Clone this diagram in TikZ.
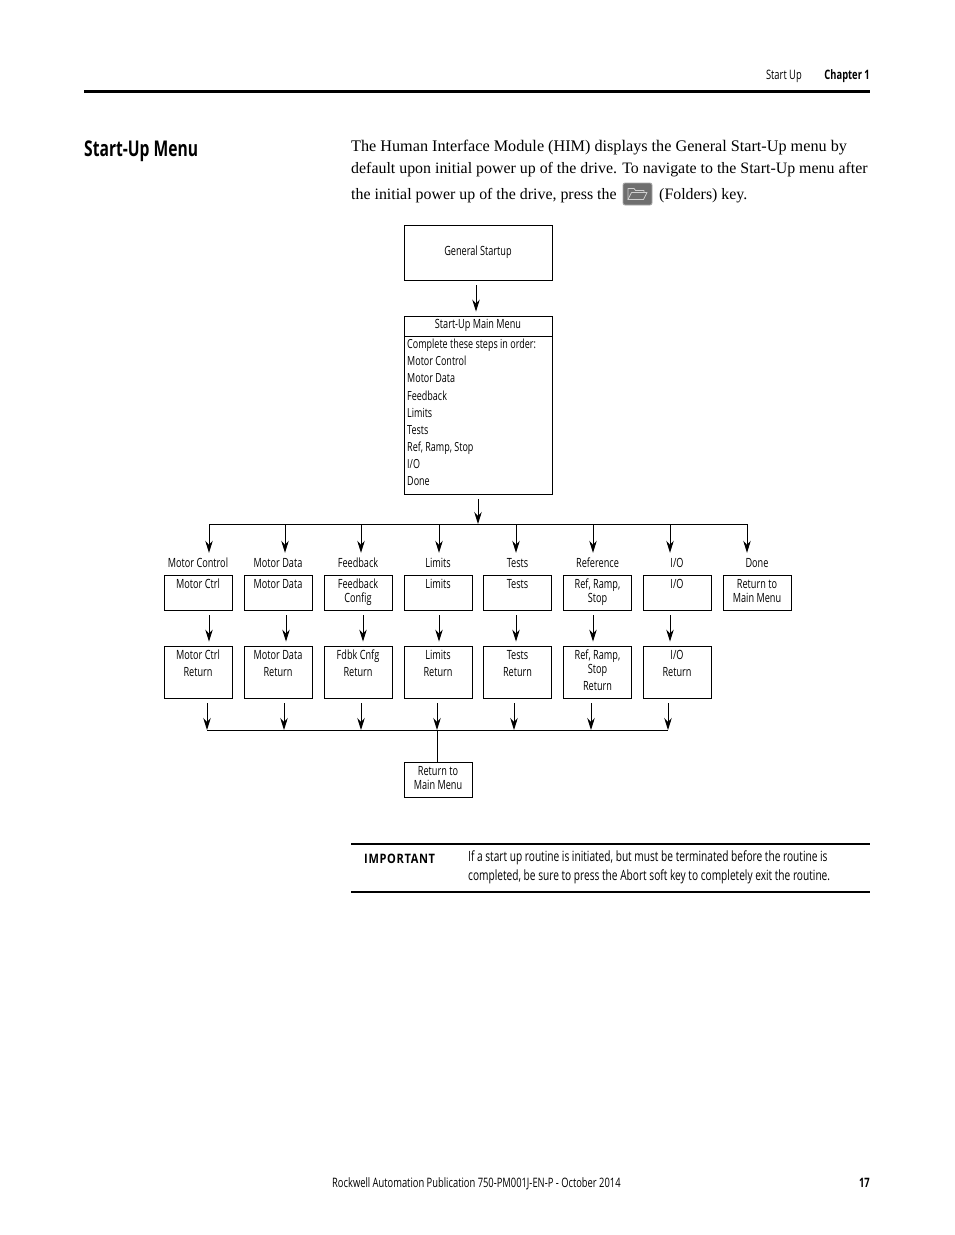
\documentclass[tikz,border=0pt]{standalone}
\usepackage{fontspec}
\setmainfont{Liberation Serif}
\newfontfamily\narrowfont[FakeStretch=0.72]{Open Sans}
\newfontfamily\spacedfont[FakeStretch=0.85,LetterSpace=5]{Open Sans}
\usetikzlibrary{arrows.meta, calc}
\definecolor{iconback}{HTML}{6E6E6E}
\definecolor{iconedge}{HTML}{A8A8A8}
\definecolor{iconline}{HTML}{D0D0D0}
\newcommand{\boxlines}[1]{\begin{tabular}[t]{@{}c@{}}#1\end{tabular}}
\tikzset{
  boxfont/.style={font=\narrowfont\fontsize{12.7}{14}\selectfont},
  menubox/.style={draw=black, line width=0.9pt, inner sep=0pt, boxfont,
    minimum width=68pt, text height=13pt},
  shortbox/.style={menubox, minimum height=35pt, text depth=22pt},
  tallbox/.style={menubox, minimum height=52pt, text depth=39pt},
  columnlabel/.style={boxfont, inner sep=0pt, minimum height=20pt},
  flowarrow/.style={-{Stealth[length=12pt, width=7.5pt, inset=4pt]}, black, line width=0.9pt},
  flowline/.style={black, line width=0.9pt},
  bodytext/.style={font=\fontsize{15.9}{20}\selectfont, anchor=base west, inner sep=0pt},
  notetext/.style={font=\narrowfont\fontsize{14.1}{15}\selectfont, anchor=base west, inner sep=0pt},
  pagetext/.style={font=\narrowfont\fontsize{13}{15}\selectfont, inner sep=0pt},
}
\begin{document}
\begin{tikzpicture}[x=1pt, y=-1pt]

  % Background
  \fill[white] (0,0) rectangle (954,1235);
  \useasboundingbox (0,0) rectangle (954,1235);

  % === Page header ===
  \node[pagetext, anchor=base east] (headsection) at (802,79) {Start Up};
  \node[pagetext, anchor=base east] (headchapter) at (870,79) {\bfseries Chapter 1};
  \fill[black] (84,89.5) rectangle (870,92.5);

  % === Title and paragraph ===
  \node[anchor=base west, inner sep=0pt, font=\narrowfont\bfseries\fontsize{21.7}{26}\selectfont]
    (pagetitle) at (84,156) {Start-Up Menu};
  \node[bodytext, font=\fontsize{16.2}{20}\selectfont] (introa) at (351,151) {The Human Interface Module (HIM) displays the General Start-Up menu by};
  \node[bodytext] (introb) at (351,173) {default upon initial power up of the drive. To navigate to the Start-Up menu after};
  \node[bodytext] (introc) at (351,199) {the initial power up of the drive, press the};
  \node[bodytext] (introd) at (659,199) {(Folders) key.};

  % --- Folders key ---
  \fill[iconback, rounded corners=2pt] (623,183) rectangle (652,205);
  \draw[iconedge, line width=0.8pt, rounded corners=2pt] (623,183) rectangle (652,205);
  \draw[iconline, line width=0.8pt, line join=round]
    (628,199.5) -- (628,188.5) -- (634,188.5) -- (635.5,190.5) -- (644,190.5) -- (644,192.5);
  \draw[iconline, line width=0.8pt, line join=round]
    (628,199.5) -- (631.5,192.5) -- (647,192.5) -- (643.5,199.5) -- cycle;

  % === Top of the menu tree ===
  \node[menubox, minimum width=148pt, minimum height=55pt, text height=8pt, text depth=2pt]
    (generalstartup) at (478,252.5) {General Startup};
  \node[menubox, minimum width=148pt, minimum height=20pt, text height=7pt, text depth=3pt]
    (mainhead) at (478,326) {Start-Up Main Menu};
  \node[draw=black, line width=0.9pt, inner sep=0pt, minimum width=148pt, minimum height=158pt]
    (mainbody) at (478,415) {};
  \node[anchor=north west, align=left, inner sep=0pt,
    font=\narrowfont\fontsize{12.5}{17.1}\selectfont] (mainlist) at (407,339)
    {Complete these steps in order:\\Motor Control\\Motor Data\\Feedback\\Limits\\Tests\\Ref, Ramp, Stop\\I/O\\Done};

  % === Bus and branch points ===
  \coordinate (bus1) at (209,524);
  \coordinate (bus2) at (285,524);
  \coordinate (bus3) at (361,524);
  \coordinate (bus4) at (439,524);
  \coordinate (bus5) at (516,524);
  \coordinate (bus6) at (593,524);
  \coordinate (bus7) at (670,524);
  \coordinate (bus8) at (747,524);
  \coordinate (low1) at (207,730);
  \coordinate (low2) at (284,730);
  \coordinate (low3) at (361,730);
  \coordinate (low4) at (437,730);
  \coordinate (low5) at (514,730);
  \coordinate (low6) at (591,730);
  \coordinate (low7) at (668,730);
  \coordinate (generalout) at ([xshift=-2]generalstartup.south);

  % === Column labels ===
  \node[columnlabel] (lblmotorcontrol) at (198,563) {Motor Control};
  \node[columnlabel] (lblmotordata) at (278,563) {Motor Data};
  \node[columnlabel] (lblfeedback) at (358,563) {Feedback};
  \node[columnlabel] (lbllimits) at (438,563) {Limits};
  \node[columnlabel] (lbltests) at (517.5,563) {Tests};
  \node[columnlabel] (lblreference) at (597.5,563) {Reference};
  \node[columnlabel] (lblio) at (677,563) {I/O};
  \node[columnlabel] (lbldone) at (757,563) {Done};

  % === First row of boxes ===
  \node[shortbox] (motorctrl) at (198,592.5) {\boxlines{Motor Ctrl}};
  \node[shortbox] (motordata) at (278,592.5) {\boxlines{Motor Data}};
  \node[shortbox] (feedback) at (358,592.5) {\boxlines{Feedback\\Config}};
  \node[shortbox] (limits) at (438,592.5) {\boxlines{Limits}};
  \node[shortbox] (tests) at (517.5,592.5) {\boxlines{Tests}};
  \node[shortbox] (reframp) at (597.5,592.5) {\boxlines{Ref, Ramp,\\Stop}};
  \node[shortbox] (io) at (677,592.5) {\boxlines{I/O}};
  \node[shortbox] (done) at (757,592.5) {\boxlines{Return to\\Main Menu}};

  % === Second row of boxes ===
  \node[tallbox] (motorctrlret) at (198,672) {\boxlines{Motor Ctrl\\[3pt]Return}};
  \node[tallbox] (motordataret) at (278,672) {\boxlines{Motor Data\\[3pt]Return}};
  \node[tallbox] (feedbackret) at (358,672) {\boxlines{Fdbk Cnfg\\[3pt]Return}};
  \node[tallbox] (limitsret) at (438,672) {\boxlines{Limits\\[3pt]Return}};
  \node[tallbox] (testsret) at (517.5,672) {\boxlines{Tests\\[3pt]Return}};
  \node[tallbox] (reframpret) at (597.5,672) {\boxlines{Ref, Ramp,\\Stop\\[3pt]Return}};
  \node[tallbox] (ioret) at (677,672) {\boxlines{I/O\\[3pt]Return}};

  % --- Last box ---
  \node[shortbox] (returnmain) at (438,779.5) {\boxlines{Return to\\Main Menu}};

  % === Connectors ===
  \draw[flowarrow, shorten <=5pt, shorten >=4pt] (generalout) -- (generalout |- mainhead.north);
  \draw[flowarrow, shorten <=5pt] (mainbody.south) -- (mainbody.south |- bus1);
  \draw[flowline] (bus1) -- (bus8);

  % upper bus down to the labels
  \draw[flowarrow] (bus1) -- (bus1 |- lblmotorcontrol.north);
  \draw[flowarrow] (bus2) -- (bus2 |- lblmotordata.north);
  \draw[flowarrow] (bus3) -- (bus3 |- lblfeedback.north);
  \draw[flowarrow] (bus4) -- (bus4 |- lbllimits.north);
  \draw[flowarrow] (bus5) -- (bus5 |- lbltests.north);
  \draw[flowarrow] (bus6) -- (bus6 |- lblreference.north);
  \draw[flowarrow] (bus7) -- (bus7 |- lblio.north);
  \draw[flowarrow] (bus8) -- (bus8 |- lbldone.north);

  % first row to second row
  \draw[flowarrow, shorten <=5pt, shorten >=4pt] (bus1 |- motorctrl.south) -- (bus1 |- motorctrlret.north);
  \draw[flowarrow, shorten <=5pt, shorten >=4pt] ([xshift=1pt]bus2 |- motordata.south) -- ([xshift=1pt]bus2 |- motordataret.north);
  \draw[flowarrow, shorten <=5pt, shorten >=4pt] ([xshift=2pt]bus3 |- feedback.south) -- ([xshift=2pt]bus3 |- feedbackret.north);
  \draw[flowarrow, shorten <=5pt, shorten >=4pt] (bus4 |- limits.south) -- (bus4 |- limitsret.north);
  \draw[flowarrow, shorten <=5pt, shorten >=4pt] (bus5 |- tests.south) -- (bus5 |- testsret.north);
  \draw[flowarrow, shorten <=5pt, shorten >=4pt] (bus6 |- reframp.south) -- (bus6 |- reframpret.north);
  \draw[flowarrow, shorten <=5pt, shorten >=4pt] (bus7 |- io.south) -- (bus7 |- ioret.north);

  % second row down to the lower bus
  \draw[flowarrow, shorten <=5pt] (low1 |- motorctrlret.south) -- (low1);
  \draw[flowarrow, shorten <=5pt] (low2 |- motordataret.south) -- (low2);
  \draw[flowarrow, shorten <=5pt] (low3 |- feedbackret.south) -- (low3);
  \draw[flowarrow, shorten <=5pt] (low4 |- limitsret.south) -- (low4);
  \draw[flowarrow, shorten <=5pt] (low5 |- testsret.south) -- (low5);
  \draw[flowarrow, shorten <=5pt] (low6 |- reframpret.south) -- (low6);
  \draw[flowarrow, shorten <=5pt] (low7 |- ioret.south) -- (low7);
  \draw[flowline] (low1) -- (low7);
  \draw[flowline] (low4) -- (low4 |- returnmain.north);

  % === Note table ===
  \draw[black, line width=1.6pt] (351,844) -- (870,844);
  \draw[black, line width=1.6pt] (351,892) -- (870,892);
  \node[anchor=base west, inner sep=0pt, font=\spacedfont\bfseries\fontsize{13}{14}\selectfont]
    (notehead) at (364,863) {IMPORTANT};
  \node[notetext] (notea) at (468,861) {If a start up routine is initiated, but must be terminated before the routine is};
  \node[notetext] (noteb) at (468,880) {completed, be sure to press the Abort soft key to completely exit the routine.};

  % === Page footer ===
  \node[pagetext, anchor=base west] (footpub) at (332,1187) {Rockwell Automation Publication 750-PM001J-EN-P - October 2014};
  \node[pagetext, anchor=base east] (footpage) at (870,1187) {\bfseries 17};

\end{tikzpicture}
\end{document}
